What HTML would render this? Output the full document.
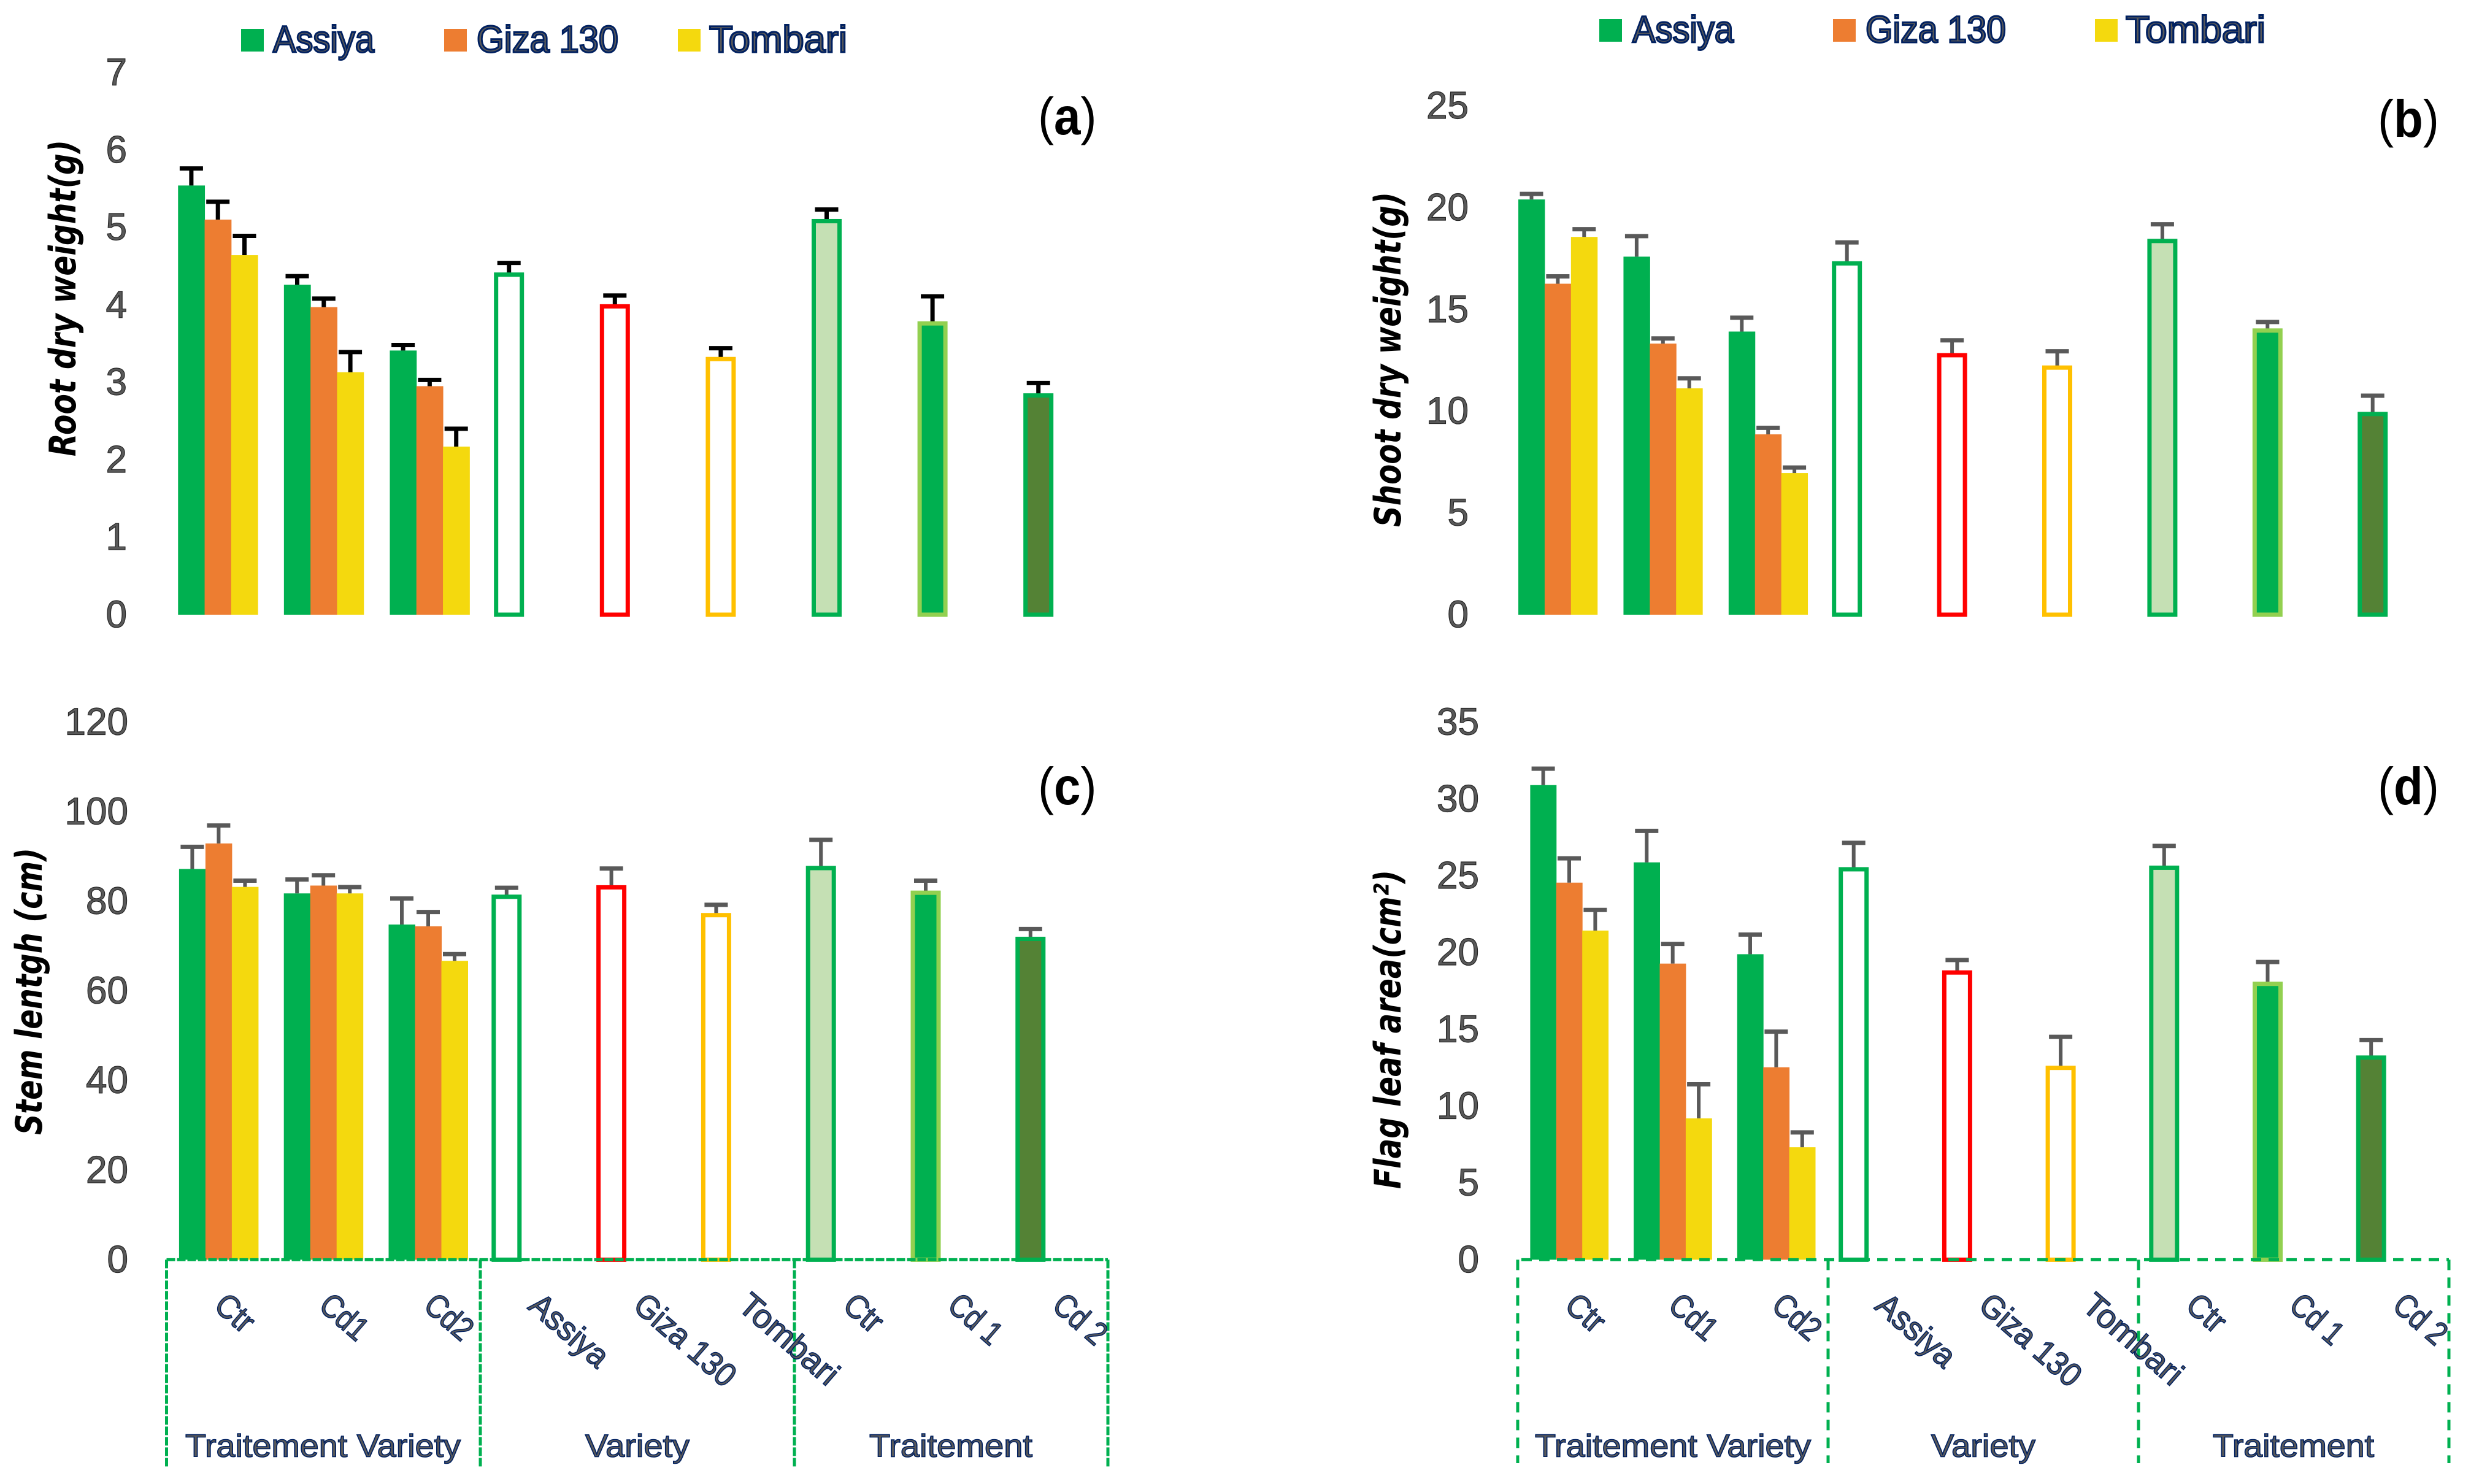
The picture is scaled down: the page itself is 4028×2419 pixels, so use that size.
<!DOCTYPE html>
<html lang="en">
<head>
<meta charset="utf-8">
<title>Root, shoot, stem and flag leaf measurements</title>
<style>
html,body{margin:0;padding:0;background:#fff}
svg{display:block}
text{font-family:"Liberation Sans",sans-serif}
.tick{font-size:62px;fill:#595959;stroke:#262626;stroke-width:1.2px}
.ytitle{font-family:"DejaVu Sans","Liberation Sans",sans-serif;font-weight:bold;font-style:italic;font-size:60px;fill:#000}
.cat{font-size:54px;fill:#595959;stroke:#002060;stroke-width:1.6px}
.grp{font-size:52px;fill:#595959;stroke:#002060;stroke-width:1.6px}
.leg{font-size:61px;fill:#595959;stroke:#002060;stroke-width:3px}
.plabel{font-size:85px;fill:#000}
</style>
</head>
<body>
<svg id="chart" xmlns="http://www.w3.org/2000/svg" width="4028" height="2419" viewBox="0 0 4028 2419"></svg>
<script>
const groupLabels = ["Ctr", "Cd1", "Cd2"];
const varietyLabels = ["Assiya", "Giza 130", "Tombari"];
const treatmentLabels = ["Ctr", "Cd 1", "Cd 2"];
const legendLabels = ["Assiya", "Giza 130", "Tombari"];

const rootTicks = [0, 1, 2, 3, 4, 5, 6, 7];
const rootAssiya = [5.54, 4.26, 3.41];
const rootAssiyaErr = [0.22, 0.11, 0.07];
const rootGiza = [5.10, 3.97, 2.95];
const rootGizaErr = [0.23, 0.11, 0.08];
const rootTombari = [4.64, 3.13, 2.17];
const rootTombariErr = [0.25, 0.26, 0.23];
const rootVariety = [4.39, 3.98, 3.30];
const rootVarietyErr = [0.15, 0.14, 0.14];
const rootTreatment = [5.08, 3.76, 2.83];
const rootTreatmentErr = [0.15, 0.35, 0.16];

const shootTicks = [0, 5, 10, 15, 20, 25];
const shootAssiya = [20.40, 17.59, 13.91];
const shootAssiyaErr = [0.27, 1.01, 0.68];
const shootGiza = [16.26, 13.32, 8.86];
const shootGizaErr = [0.36, 0.25, 0.32];
const shootTombari = [18.56, 11.12, 6.96];
const shootTombariErr = [0.38, 0.49, 0.27];
const shootVariety = [17.26, 12.75, 12.14];
const shootVarietyErr = [1.03, 0.73, 0.80];
const shootTreatment = [18.36, 13.96, 9.86];
const shootTreatmentErr = [0.82, 0.42, 0.90];

const stemTicks = [0, 20, 40, 60, 80, 100, 120];
const stemAssiya = [87.2, 81.75, 74.8];
const stemAssiyaErr = [4.95, 3.1, 5.8];
const stemGiza = [92.9, 83.5, 74.4];
const stemGizaErr = [4.0, 2.3, 3.2];
const stemTombari = [83.2, 81.75, 66.7];
const stemTombariErr = [1.4, 1.4, 1.5];
const stemVariety = [81.0, 83.1, 76.9];
const stemVarietyErr = [2.0, 4.2, 2.3];
const stemTreatment = [87.4, 81.9, 71.6];
const stemTreatmentErr = [6.3, 2.7, 2.2];

const leafTicks = [0, 5, 10, 15, 20, 25, 30, 35];
const leafAssiya = [30.9, 25.87, 19.89];
const leafAssiyaErr = [1.07, 2.05, 1.28];
const leafGiza = [24.55, 19.28, 12.53];
const leafGizaErr = [1.58, 1.28, 2.32];
const leafTombari = [21.43, 9.2, 7.32];
const leafTombariErr = [1.34, 2.22, 0.97];
const leafVariety = [25.42, 18.7, 12.49];
const leafVarietyErr = [1.72, 0.81, 2.02];
const leafTreatment = [25.52, 17.96, 13.16];
const leafTreatmentErr = [1.42, 1.42, 1.14];

const svg = document.getElementById('chart');
const NS = 'http://www.w3.org/2000/svg';

function make(tag, attrs, parent) {
  const el = document.createElementNS(NS, tag);
  for (const k in attrs) el.setAttribute(k, attrs[k]);
  parent.appendChild(el);
  return el;
}

function label(tag, attrs, parent, txt) {
  const el = make(tag, attrs, parent);
  el.textContent = txt;
  return el;
}

function catLength(c) {
  if (c === 'Ctr') return 66;
  if (c === 'Assiya') return 152;
  if (c === 'Giza 130') return 200;
  if (c === 'Tombari') return 196;
  if (c === 'Cd 1' || c === 'Cd 2') return 96;
  return 85;
}

function drawError(g, cx, yTop, yBase, color, stemW) {
  const stem = make('line', {x1: cx, x2: cx, y1: yBase, y2: yTop, stroke: color, 'stroke-width': stemW}, g);
  
  
  const cap = make('line', {x1: cx - 19, x2: cx + 19, y1: yTop, y2: yTop, stroke: color, 'stroke-width': 7}, g);
  
  
}

function drawPanel(p) {
  const g = make('g', {}, svg);
  
  

  const unit = p.plotHeight / p.yMax;
  const yScale = v => p.zeroY - v * unit;
  const xCenter = i => p.x0 + p.step * i;

  // y ticks
  p.ticks.forEach(t => {
    const tick = label('text', {x: p.tickX, y: yScale(t) + 20.5, 'text-anchor': 'end', class: 'tick'}, g, String(t));
    
    
  });

  // y title
  const title = label('text', {
    transform: 'translate(' + p.titleX + ',' + p.titleY + ') rotate(-90)',
    class: 'ytitle', textLength: p.titleLen, lengthAdjust: 'spacingAndGlyphs'
  }, g, p.title);
  
  

  // grouped bars
  const seriesColors = ['#00b050', '#ed7d31', '#f4d90e'];
  const seriesNames = ['assiya', 'giza-130', 'tombari'];
  p.series.forEach((vals, s) => {
    vals.forEach((v, i) => {
      const left = xCenter(i) - 1.5 * p.slot + s * p.slot;
      const bar = make('rect', {x: left, y: yScale(v), width: p.slot + 0.5, height: p.zeroY - yScale(v), fill: seriesColors[s]}, g);
      
      
    });
  });
  p.series.forEach((vals, s) => {
    vals.forEach((v, i) => {
      const cx = xCenter(i) - p.slot + s * p.slot;
      drawError(g, cx, yScale(v + p.seriesErr[s][i]), yScale(v), p.errColor, p.stemW);
    });
  });

  // single outlined bars
  const singles = p.variety.concat(p.treatment);
  const singleErr = p.varietyErr.concat(p.treatmentErr);
  const singleFill = ['#ffffff', '#ffffff', '#ffffff', '#c5e0b4', '#00b050', '#548235'];
  const singleStroke = ['#00b050', '#ff0000', '#ffc000', '#00b050', '#92d050', '#00b050'];
  const singleLabels = varietyLabels.concat(treatmentLabels);
  singles.forEach((v, j) => {
    const cx = xCenter(j + 3) - p.slot;
    drawError(g, cx, yScale(v + singleErr[j]), yScale(v), p.errColor, p.stemW);
    const bar = make('rect', {x: cx - 21, y: yScale(v), width: 42, height: p.zeroY - yScale(v), fill: singleFill[j], stroke: singleStroke[j], 'stroke-width': 7}, g);
    
    
  });

  // panel letter
  const letter = make('text', {transform: 'translate(' + p.letterX + ',' + p.letterY + ') scale(0.92,1)', class: 'plabel'}, g);
  
  
  label('tspan', {}, letter, '(');
  label('tspan', {'font-weight': 'bold'}, letter, p.letter);
  label('tspan', {}, letter, ')');

  // bottom labels and boxes
  if (p.boxX) {
    const top = p.zeroY, bottom = p.boxBottom;
    const h = make('line', {x1: p.boxX[0], x2: p.boxX[3], y1: top, y2: top, stroke: '#00b050', 'stroke-width': 5, 'stroke-dasharray': p.dash, 'stroke-dashoffset': p.dashOffset}, g);
    
    
    p.boxX.forEach(x => {
      const v = make('line', {x1: x, x2: x, y1: top, y2: bottom, stroke: '#00b050', 'stroke-width': 5, 'stroke-dasharray': p.dash}, g);
      
      
    });
    const cats = groupLabels.concat(varietyLabels, treatmentLabels);
    cats.forEach((c, i) => {
      const x = xCenter(i) - 10, y = p.zeroY + 79;
      const t = label('text', {x: x, y: y, class: 'cat', textLength: catLength(c), lengthAdjust: 'spacingAndGlyphs', transform: 'rotate(41 ' + x + ' ' + y + ')'}, g, c);
      
      
    });
    const names = ['Traitement Variety', 'Variety', 'Traitement'];
    names.forEach((n, i) => {
      const t = label('text', {x: p.groupX[i], y: p.zeroY + 321, class: 'grp', textLength: p.groupLen[i], lengthAdjust: 'spacingAndGlyphs'}, g, n);
      
      
    });
  }

  // legend
  if (p.legendSwatchX) {
    const lc = ['#00b050', '#ed7d31', '#f4d90e'];
    legendLabels.forEach((n, i) => {
      const sw = make('rect', {x: p.legendSwatchX[i], y: p.legendY - 38, width: 37, height: 37, fill: lc[i]}, g);
      
      
      const t = label('text', {x: p.legendTextX[i], y: p.legendY, class: 'leg', textLength: p.legendLen[i], lengthAdjust: 'spacingAndGlyphs'}, g, n);
      
      
    });
  }
}

drawPanel({
  name: 'panel-a-root-dry-weight', letter: 'a', title: 'Root dry weight(g)',
  ticks: rootTicks, yMax: 7, plotHeight: 884, zeroY: 1002, tickX: 207,
  x0: 355.2, step: 172.6, slot: 43.3, errColor: '#000000', stemW: 7,
  series: [rootAssiya, rootGiza, rootTombari], seriesErr: [rootAssiyaErr, rootGizaErr, rootTombariErr],
  variety: rootVariety, varietyErr: rootVarietyErr, treatment: rootTreatment, treatmentErr: rootTreatmentErr,
  titleX: 123, titleY: 744, titleLen: 516, letterX: 1692, letterY: 219,
  legendSwatchX: [393, 724, 1105], legendTextX: [445, 777, 1156], legendLen: [165, 231, 225], legendY: 85
});
drawPanel({
  name: 'panel-b-shoot-dry-weight', letter: 'b', title: 'Shoot dry weight(g)',
  ticks: shootTicks, yMax: 25, plotHeight: 829.5, zeroY: 1002, tickX: 2394,
  x0: 2539.4, step: 171.4, slot: 42.9, errColor: '#595959', stemW: 6,
  series: [shootAssiya, shootGiza, shootTombari], seriesErr: [shootAssiyaErr, shootGizaErr, shootTombariErr],
  variety: shootVariety, varietyErr: shootVarietyErr, treatment: shootTreatment, treatmentErr: shootTreatmentErr,
  titleX: 2283, titleY: 859, titleLen: 546, letterX: 3876, letterY: 223,
  legendSwatchX: [2607, 2988, 3415], legendTextX: [2661, 3041, 3465], legendLen: [165, 229, 228], legendY: 69
});
drawPanel({
  name: 'panel-c-stem-length', letter: 'c', title: 'Stem lentgh (cm)',
  ticks: stemTicks, yMax: 120, plotHeight: 876.5, zeroY: 2053.4, tickX: 209,
  x0: 356.4, step: 170.8, slot: 43, errColor: '#595959', stemW: 6,
  series: [stemAssiya, stemGiza, stemTombari], seriesErr: [stemAssiyaErr, stemGizaErr, stemTombariErr],
  variety: stemVariety, varietyErr: stemVarietyErr, treatment: stemTreatment, treatmentErr: stemTreatmentErr,
  titleX: 68, titleY: 1850, titleLen: 468, letterX: 1692, letterY: 1311,
  boxX: [271.5, 783, 1295, 1806], boxBottom: 2393, groupX: [302, 954, 1417], groupLen: [449, 170, 266],
  dash: '14 3', dashOffset: 0
});
drawPanel({
  name: 'panel-d-flag-leaf-area', letter: 'd', title: 'Flag leaf area(cm²)',
  ticks: leafTicks, yMax: 35, plotHeight: 876.3, zeroY: 2053.4, tickX: 2411,
  x0: 2558, step: 168.7, slot: 42.4, errColor: '#595959', stemW: 6,
  series: [leafAssiya, leafGiza, leafTombari], seriesErr: [leafAssiyaErr, leafGizaErr, leafTombariErr],
  variety: leafVariety, varietyErr: leafVarietyErr, treatment: leafTreatment, treatmentErr: leafTreatmentErr,
  titleX: 2283, titleY: 1938, titleLen: 520, letterX: 3876, letterY: 1311,
  boxX: [2474, 2980, 3486, 3992], boxBottom: 2385, groupX: [2502, 3148, 3607], groupLen: [450, 170, 263],
  dash: '17 12', dashOffset: -6
});
</script>
</body>
</html>
